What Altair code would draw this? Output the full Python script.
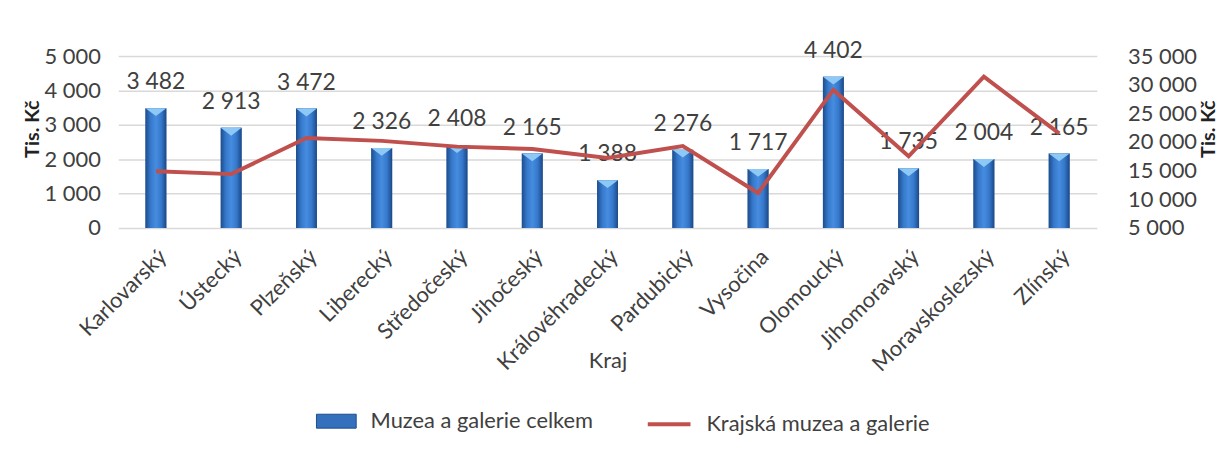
import altair as alt
import pandas as pd

kraje = ["Karlovarský", "Ústecký", "Plzeňský", "Liberecký", "Středočeský", "Jihočeský",
         "Královéhradecký", "Pardubický", "Vysočina", "Olomoucký", "Jihomoravský",
         "Moravskoslezský", "Zlínský"]
celkem = [3482, 2913, 3472, 2326, 2408, 2165, 1388, 2276, 1717, 4402, 1735, 2004, 2165]
krajska = [14900, 14400, 20700, 20200, 19200, 18800, 17200, 19300, 11100, 29100, 17500, 31400, 21500]

left_ticks = [0, 1000, 2000, 3000, 4000, 5000]
right_ticks = [5000, 10000, 15000, 20000, 25000, 30000, 35000]

S1 = "Muzea a galerie celkem"
S2 = "Krajská muzea a galerie"

df = pd.DataFrame({"kraj": kraje, "celkem": celkem, "krajska": krajska,
                   "s1": [S1] * len(kraje), "s2": [S2] * len(kraje)})

FONT = "Lato"
TXT = "#404040"

x_enc = alt.X(
    "kraj:N", sort=kraje, title="Kraj",
    scale=alt.Scale(paddingInner=0, paddingOuter=0),
    axis=alt.Axis(labelAngle=-45, labelFontSize=22, labelColor=TXT, labelFont=FONT,
                  ticks=False, domain=False, grid=False, labelPadding=18,
                  titleFontSize=22, titleFont=FONT, titleColor=TXT, titleFontWeight="normal",
                  titleY=123, titleBaseline="top"),
)

y_left = alt.Y(
    "celkem:Q", scale=alt.Scale(domain=[0, 5000]),
    axis=alt.Axis(values=left_ticks, format=",d", labelExpr="replace(datum.label, ',', ' ')",
                  title="Tis. Kč", titleFontWeight="bold", titleFontSize=20, titleFont=FONT,
                  titleColor="#222222", titlePadding=2, titleY=73,
                  labelFontSize=22, labelFont=FONT, labelColor=TXT, labelPadding=18,
                  ticks=False, domain=False, grid=True, gridColor="#d9d9d9", gridWidth=1.5),
)

base = alt.Chart(df)

bars_solid = base.mark_bar(size=21).encode(
    x=x_enc, y=y_left,
    color=alt.Color(
        "s1:N", scale=alt.Scale(domain=[S1], range=["#3470bb"]),
        legend=alt.Legend(title=None, orient="none", legendX=199, legendY=347,
                          symbolType="M-1,-0.35H1V0.35H-1Z", symbolSize=1600,
                          symbolStrokeColor="#1f4e8c", symbolStrokeWidth=1,
                          labelFontSize=22, labelFont=FONT, labelColor=TXT, labelOffset=14,
                          labelLimit=0, padding=0),
    ),
)

grad = alt.Gradient(
    gradient="linear", x1=0, x2=1, y1=0, y2=0,
    stops=[
        alt.GradientStop(color="#1e4c8b", offset=0),
        alt.GradientStop(color="#3679cc", offset=0.25),
        alt.GradientStop(color="#468cdf", offset=0.5),
        alt.GradientStop(color="#3679cc", offset=0.75),
        alt.GradientStop(color="#1c4886", offset=1),
    ],
)
bars_grad = base.mark_bar(size=21, fill=grad).encode(x=x_enc, y=y_left)

caps = base.mark_point(shape="M-1,0H1L0,0.75Z", filled=True, size=441, color="#8ec8f4",
                       opacity=1, strokeWidth=0).encode(x=x_enc, y=y_left)

labels = base.transform_calculate(
    lab="replace(format(datum.celkem, ',d'), ',', ' ')"
).mark_text(fontSize=23, font=FONT, color=TXT, baseline="bottom", dy=-14).encode(
    x=x_enc, y=y_left, text="lab:N")

left = alt.layer(bars_solid, bars_grad, caps, labels)

line = base.mark_line(strokeWidth=4).encode(
    x=x_enc,
    y=alt.Y("krajska:Q", scale=alt.Scale(domain=[5000, 35000]),
            axis=alt.Axis(orient="right", values=right_ticks, format=",d",
                          labelExpr="replace(datum.label, ',', ' ')",
                          title="Tis. Kč", titleAngle=270, titleBaseline="top",
                          titleFontWeight="bold", titleY=73,
                          titleFontSize=20, titleFont=FONT, titleColor="#222222", titlePadding=2,
                          labelFontSize=22, labelFont=FONT, labelColor=TXT, labelPadding=31,
                          ticks=False, domain=False, grid=False)),
    color=alt.Color(
        "s2:N", scale=alt.Scale(domain=[S2], range=["#c0504d"]),
        legend=alt.Legend(title=None, orient="none", legendX=531, legendY=347,
                          symbolType="stroke", symbolSize=1849, symbolStrokeWidth=4,
                          labelFontSize=22, labelFont=FONT, labelColor=TXT, labelOffset=14,
                          labelLimit=0, padding=0),
    ),
)

chart = alt.layer(left, line).resolve_scale(y="independent", color="independent").properties(
    width=985, height=173, background="white",
    padding={"left": 14, "top": 30, "right": 0, "bottom": 0},
).configure_view(stroke=None)

chart.save("out.html", embed_options={"renderer": "svg", "actions": False})
